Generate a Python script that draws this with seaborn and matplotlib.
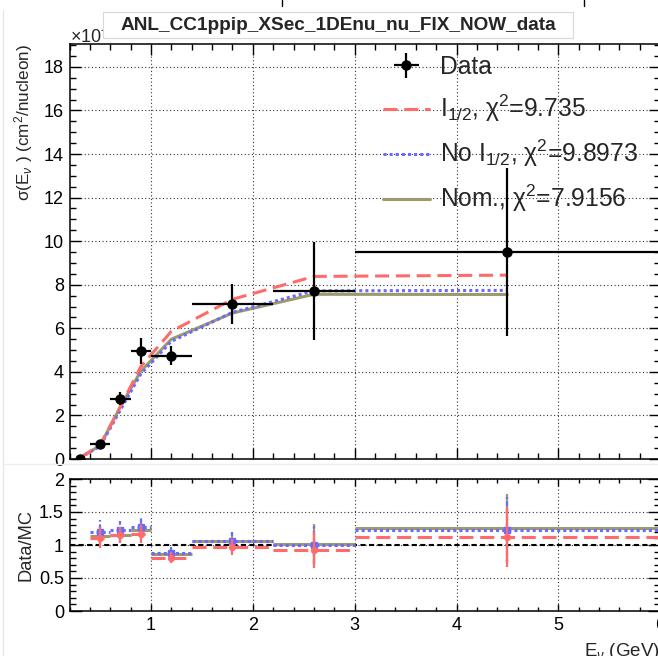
import numpy as np
import pandas as pd
import matplotlib
matplotlib.use("Agg")
import matplotlib.pyplot as plt
import seaborn as sns
from matplotlib.ticker import MultipleLocator, FormatStrFormatter, FixedLocator
from matplotlib.lines import Line2D
from matplotlib.patches import Rectangle

# ---------------- data (cross section in units of 1e-38 cm^2/nucleon) ----------------
E_centers = [0.3, 0.5, 0.7, 0.9, 1.2, 1.8, 2.6, 4.5]
E_halfw = [0.1, 0.1, 0.1, 0.1, 0.2, 0.4, 0.4, 1.5]
data_vals = [0.0, 0.70, 2.77, 4.95, 4.75, 7.13, 7.71, 9.50]
data_errs = [0.0, 0.10, 0.30, 0.60, 0.45, 0.92, 2.27, 3.85]
mc_i12 = [0.05, 0.632, 2.41, 4.24, 5.86, 7.33, 8.38, 8.44]
mc_noi12 = [0.05, 0.583, 2.25, 3.90, 5.40, 6.73, 7.72, 7.74]
mc_nom = [0.05, 0.62, 2.40, 4.03, 5.50, 6.70, 7.56, 7.55]

labels = ["Data", "I$_{1/2}$, χ$^{2}$=9.735", "No I$_{1/2}$, χ$^{2}$=9.8973", "Nom., χ$^{2}$=7.9156"]
title = "ANL_CC1ppip_XSec_1DEnu_nu_FIX_NOW_data"
ylabel_top = "σ(E$_{ν}$ ) (cm$^{2}$/nucleon)"
ylabel_bot = "Data/MC"
xlabel = "E$_{ν}$ (GeV)"

C_RED = "#ff6b6b"
C_BLUE = "#6a6aff"
C_OLIVE = "#9d9b6b"

sns.set_theme(style="white")
plt.rcParams["font.family"] = ["Liberation Sans", "DejaVu Sans"]
plt.rcParams["mathtext.fontset"] = "custom"
plt.rcParams["mathtext.rm"] = "Liberation Sans"
plt.rcParams["mathtext.it"] = "Liberation Sans:italic"
plt.rcParams["mathtext.bf"] = "Liberation Sans:bold"
plt.rcParams["axes.edgecolor"] = "black"
plt.rcParams["axes.linewidth"] = 1.1
plt.rcParams["xtick.color"] = "black"
plt.rcParams["ytick.color"] = "black"

W, H = 658, 656
fig = plt.figure(figsize=(W / 100, H / 100), dpi=100)
fig.patch.set_facecolor("white")

def fx(px):
    return px / W

def fy(py):
    return 1 - py / H

left, right = 69.5, 660.2
ax1 = fig.add_axes([fx(left), fy(459), fx(right - left), (459 - 44) / H])
ax2 = fig.add_axes([fx(left), fy(611), fx(right - left), (611 - 479) / H])

grid_kw = dict(color="#333333", linestyle=(0, (1, 2.2)), linewidth=0.8)
LAB = 13.2
TICK = 13

# ---------------- top panel ----------------
df = pd.DataFrame({"E": E_centers, "i12": mc_i12, "noi12": mc_noi12, "nom": mc_nom})
sns.lineplot(data=df, x="E", y="nom", ax=ax1, color=C_OLIVE, lw=2.2, legend=False, zorder=3)
l_nom = ax1.lines[-1]
sns.lineplot(data=df, x="E", y="noi12", ax=ax1, color=C_BLUE, lw=2.2, legend=False, zorder=4)
l_no = ax1.lines[-1]
l_no.set_dashes((1.0, 1.0))
sns.lineplot(data=df, x="E", y="i12", ax=ax1, color=C_RED, lw=2.2, legend=False, zorder=5)
l_i12 = ax1.lines[-1]
l_i12.set_dashes((4.6, 2.2))

E_arr = np.array(E_centers)
dv = np.array(data_vals)
de = np.array(data_errs)
hw = np.array(E_halfw)
nz = dv > 0
eb = ax1.errorbar(E_arr[nz], dv[nz], xerr=hw[nz], yerr=de[nz], fmt="o", color="black",
                  ms=6.5, elinewidth=1.6, capsize=0, zorder=6)
ax1.plot(E_arr[~nz], dv[~nz], "o", color="black", ms=6.5, zorder=6)

ax1.set_xlim(0.2, 6.0)
ax1.set_ylim(0, 19.05)
ax1.yaxis.set_major_locator(FixedLocator(np.arange(0, 19, 2)))
ax1.yaxis.set_minor_locator(MultipleLocator(0.5))
ax1.xaxis.set_major_locator(FixedLocator([1, 2, 3, 4, 5, 6]))
ax1.xaxis.set_minor_locator(MultipleLocator(0.2))
ax1.grid(True, which="major", **grid_kw)
ax1.set_axisbelow(True)
ax1.set_ylabel(ylabel_top, fontsize=12.3, loc="top", labelpad=6)
ax1.set_xlabel("")

leg = ax1.legend([eb, l_i12, l_no, l_nom], labels, loc="upper left",
                 bbox_to_anchor=((383 - left) / (right - left), (459 - 55) / 415),
                 frameon=False, fontsize=17.7, handlelength=1.9, handletextpad=0.42,
                 borderpad=0, borderaxespad=0, labelspacing=0.56)

# ---------------- bottom panel (ratios) ----------------
lo = E_arr - hw
hi = E_arr + hw
m = slice(1, None)

def ratio_set(mc, color, ls, marker, ms, z, err_ls):
    mc = np.array(mc)
    r = dv[m] / mc[m]
    re = de[m] / mc[m]
    ax2.hlines(r, lo[m], hi[m], colors=color, linestyles=ls, lw=2.2, zorder=z)
    c = ax2.errorbar(E_arr[m], r, yerr=re, fmt=marker, color=color, ms=ms,
                     elinewidth=1.6, capsize=0, zorder=z + 0.5)
    for lc in c.lines[2]:
        lc.set_linestyle(err_ls)

ratio_set(mc_nom, C_OLIVE, "solid", "none", 0, 3, "solid")
ratio_set(mc_noi12, C_BLUE, (0, (1.0, 1.0)), "s", 5.0, 4, (0, (2.0, 1.2)))
ratio_set(mc_i12, C_RED, (0, (4.6, 2.2)), "o", 4.2, 5, "solid")

ax2.axhline(1.0, color="black", lw=1.5, dashes=(2.5, 1.6), zorder=2.5)

ax2.set_xlim(0.2, 6.0)
ax2.set_ylim(0, 2)
ax2.yaxis.set_major_locator(FixedLocator([0, 0.5, 1, 1.5, 2]))
ax2.yaxis.set_major_formatter(FormatStrFormatter("%g"))
ax2.yaxis.set_minor_locator(MultipleLocator(0.1))
ax2.xaxis.set_major_locator(FixedLocator([1, 2, 3, 4, 5, 6]))
ax2.xaxis.set_major_formatter(FormatStrFormatter("%g"))
ax2.xaxis.set_minor_locator(MultipleLocator(0.2))
ax2.grid(True, which="major", **grid_kw)
ax2.set_axisbelow(True)
ax2.set_ylabel(ylabel_bot, fontsize=LAB, labelpad=3)
ax2.set_xlabel(xlabel, fontsize=13.5, loc="right", labelpad=5)

for ax in (ax1, ax2):
    ax.tick_params(which="both", direction="in", top=True, right=True, bottom=True,
                   left=True, width=1.0, labelsize=TICK, pad=4)
    for s in ax.spines.values():
        s.set_linewidth(1.1)
        s.set_color("black")
ax1.tick_params(axis="x", labelbottom=False)
ax1.tick_params(which="major", length=8)
ax1.tick_params(which="minor", length=4.3)
ax2.tick_params(axis="y", which="major", length=8.5)
ax2.tick_params(axis="y", which="minor", length=4.3)
ax2.tick_params(axis="x", which="major", length=5)
ax2.tick_params(axis="x", which="minor", length=3)

# ---------------- decorations ----------------
fig.text(fx(70), fy(37), "×10$^{-38}$", ha="left", va="center", fontsize=13, zorder=1)
fig.add_artist(Rectangle((fx(103), fy(38)), fx(470), 26 / H, transform=fig.transFigure,
                         facecolor="white", edgecolor="#d8d8d8", lw=0.8, zorder=9))
fig.text(fx(338), fy(25), title, ha="center", va="center", fontsize=13.7,
         fontweight="bold", zorder=10)
fig.add_artist(Line2D([fx(282), fx(282)], [1, fy(6)], color="black", lw=1.0))
fig.add_artist(Line2D([fx(584), fx(584)], [1, fy(6)], color="black", lw=1.0))
fig.add_artist(Line2D([fx(3), fx(3)], [0, fy(10)], color="#e6e6e6", lw=1.0))
fig.add_artist(Line2D([fx(3), 1], [fy(464), fy(464)], color="#eeeeee", lw=1.0))

fig.savefig("out.png", dpi=100, facecolor="white")
